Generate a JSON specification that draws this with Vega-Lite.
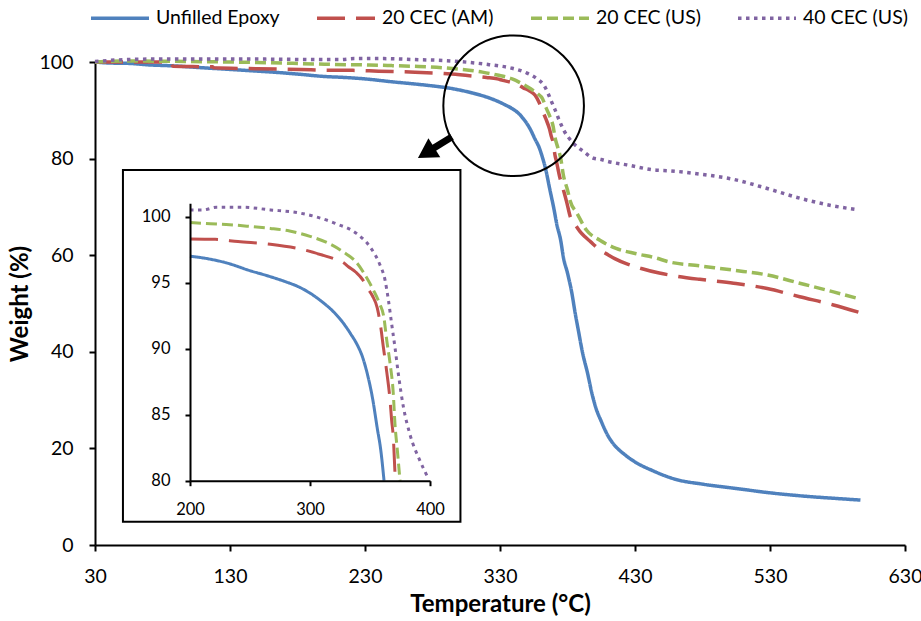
{
  "$schema": "https://vega.github.io/schema/vega-lite/v6.json",
  "width": 810,
  "height": 483,
  "autosize": {"type": "none"},
  "padding": {"left": 95, "top": 62, "right": 16, "bottom": 76},
  "config": {"view": {"stroke": null}, "font": "Lato"},
  "datasets": {
    "curves": [
      {"s": "Unfilled Epoxy", "T": 30, "W": 100.0},
      {"s": "Unfilled Epoxy", "T": 40, "W": 99.8},
      {"s": "Unfilled Epoxy", "T": 56, "W": 99.7},
      {"s": "Unfilled Epoxy", "T": 70, "W": 99.4},
      {"s": "Unfilled Epoxy", "T": 88, "W": 99.2},
      {"s": "Unfilled Epoxy", "T": 110, "W": 98.8},
      {"s": "Unfilled Epoxy", "T": 128, "W": 98.5},
      {"s": "Unfilled Epoxy", "T": 145, "W": 98.2},
      {"s": "Unfilled Epoxy", "T": 162, "W": 97.9},
      {"s": "Unfilled Epoxy", "T": 180, "W": 97.5},
      {"s": "Unfilled Epoxy", "T": 200, "W": 97.0},
      {"s": "Unfilled Epoxy", "T": 215, "W": 96.8},
      {"s": "Unfilled Epoxy", "T": 230, "W": 96.5},
      {"s": "Unfilled Epoxy", "T": 250, "W": 95.9},
      {"s": "Unfilled Epoxy", "T": 265, "W": 95.5},
      {"s": "Unfilled Epoxy", "T": 280, "W": 95.05},
      {"s": "Unfilled Epoxy", "T": 290, "W": 94.7},
      {"s": "Unfilled Epoxy", "T": 300, "W": 94.2},
      {"s": "Unfilled Epoxy", "T": 310, "W": 93.55},
      {"s": "Unfilled Epoxy", "T": 320, "W": 92.75},
      {"s": "Unfilled Epoxy", "T": 328, "W": 91.9},
      {"s": "Unfilled Epoxy", "T": 334, "W": 91.1},
      {"s": "Unfilled Epoxy", "T": 339, "W": 90.35},
      {"s": "Unfilled Epoxy", "T": 344, "W": 89.3},
      {"s": "Unfilled Epoxy", "T": 348, "W": 88.0},
      {"s": "Unfilled Epoxy", "T": 352, "W": 86.3},
      {"s": "Unfilled Epoxy", "T": 356, "W": 84.0},
      {"s": "Unfilled Epoxy", "T": 359, "W": 82.3},
      {"s": "Unfilled Epoxy", "T": 361.7, "W": 80.0},
      {"s": "Unfilled Epoxy", "T": 363.5, "W": 78.2},
      {"s": "Unfilled Epoxy", "T": 367, "W": 73.5},
      {"s": "Unfilled Epoxy", "T": 370, "W": 69.5},
      {"s": "Unfilled Epoxy", "T": 372, "W": 66.5},
      {"s": "Unfilled Epoxy", "T": 375, "W": 63.0},
      {"s": "Unfilled Epoxy", "T": 377, "W": 59.5},
      {"s": "Unfilled Epoxy", "T": 380, "W": 56.3},
      {"s": "Unfilled Epoxy", "T": 383, "W": 52.5},
      {"s": "Unfilled Epoxy", "T": 386, "W": 47.5},
      {"s": "Unfilled Epoxy", "T": 388, "W": 44.5},
      {"s": "Unfilled Epoxy", "T": 391, "W": 40.0},
      {"s": "Unfilled Epoxy", "T": 395, "W": 35.4},
      {"s": "Unfilled Epoxy", "T": 398, "W": 31.5},
      {"s": "Unfilled Epoxy", "T": 401, "W": 28.4},
      {"s": "Unfilled Epoxy", "T": 405, "W": 25.6},
      {"s": "Unfilled Epoxy", "T": 410, "W": 22.6},
      {"s": "Unfilled Epoxy", "T": 415, "W": 20.6},
      {"s": "Unfilled Epoxy", "T": 422, "W": 18.8},
      {"s": "Unfilled Epoxy", "T": 430, "W": 17.2},
      {"s": "Unfilled Epoxy", "T": 443, "W": 15.4},
      {"s": "Unfilled Epoxy", "T": 460, "W": 13.6},
      {"s": "Unfilled Epoxy", "T": 480, "W": 12.6},
      {"s": "Unfilled Epoxy", "T": 505, "W": 11.7},
      {"s": "Unfilled Epoxy", "T": 530, "W": 10.8},
      {"s": "Unfilled Epoxy", "T": 556, "W": 10.1},
      {"s": "Unfilled Epoxy", "T": 581, "W": 9.6},
      {"s": "Unfilled Epoxy", "T": 597, "W": 9.3},

      {"s": "20 CEC (AM)", "T": 30, "W": 100.0},
      {"s": "20 CEC (AM)", "T": 85, "W": 100.0},
      {"s": "20 CEC (AM)", "T": 88, "W": 99.1},
      {"s": "20 CEC (AM)", "T": 117, "W": 99.0},
      {"s": "20 CEC (AM)", "T": 118, "W": 98.8},
      {"s": "20 CEC (AM)", "T": 150, "W": 98.6},
      {"s": "20 CEC (AM)", "T": 190, "W": 98.4},
      {"s": "20 CEC (AM)", "T": 200, "W": 98.3},
      {"s": "20 CEC (AM)", "T": 221, "W": 98.27},
      {"s": "20 CEC (AM)", "T": 240, "W": 98.1},
      {"s": "20 CEC (AM)", "T": 267, "W": 97.9},
      {"s": "20 CEC (AM)", "T": 294, "W": 97.5},
      {"s": "20 CEC (AM)", "T": 311, "W": 97.06},
      {"s": "20 CEC (AM)", "T": 320, "W": 96.8},
      {"s": "20 CEC (AM)", "T": 328, "W": 96.5},
      {"s": "20 CEC (AM)", "T": 332, "W": 96.2},
      {"s": "20 CEC (AM)", "T": 338, "W": 95.8},
      {"s": "20 CEC (AM)", "T": 344, "W": 95.2},
      {"s": "20 CEC (AM)", "T": 347, "W": 94.7},
      {"s": "20 CEC (AM)", "T": 352, "W": 94.0},
      {"s": "20 CEC (AM)", "T": 356, "W": 93.1},
      {"s": "20 CEC (AM)", "T": 359, "W": 91.6},
      {"s": "20 CEC (AM)", "T": 361, "W": 90.2},
      {"s": "20 CEC (AM)", "T": 364, "W": 88.2},
      {"s": "20 CEC (AM)", "T": 366.7, "W": 86.1},
      {"s": "20 CEC (AM)", "T": 368, "W": 84.6},
      {"s": "20 CEC (AM)", "T": 369.4, "W": 83.3},
      {"s": "20 CEC (AM)", "T": 370.8, "W": 80.6},
      {"s": "20 CEC (AM)", "T": 371.5, "W": 79.8},
      {"s": "20 CEC (AM)", "T": 374.4, "W": 76.0},
      {"s": "20 CEC (AM)", "T": 377, "W": 73.5},
      {"s": "20 CEC (AM)", "T": 379.4, "W": 71.0},
      {"s": "20 CEC (AM)", "T": 382, "W": 68.0},
      {"s": "20 CEC (AM)", "T": 386, "W": 66.2},
      {"s": "20 CEC (AM)", "T": 389, "W": 65.0},
      {"s": "20 CEC (AM)", "T": 393, "W": 63.8},
      {"s": "20 CEC (AM)", "T": 397, "W": 62.8},
      {"s": "20 CEC (AM)", "T": 404, "W": 61.1},
      {"s": "20 CEC (AM)", "T": 410, "W": 60.1},
      {"s": "20 CEC (AM)", "T": 415, "W": 59.3},
      {"s": "20 CEC (AM)", "T": 424, "W": 58.2},
      {"s": "20 CEC (AM)", "T": 434, "W": 57.3},
      {"s": "20 CEC (AM)", "T": 448, "W": 56.3},
      {"s": "20 CEC (AM)", "T": 460, "W": 55.7},
      {"s": "20 CEC (AM)", "T": 478, "W": 55.0},
      {"s": "20 CEC (AM)", "T": 503, "W": 54.2},
      {"s": "20 CEC (AM)", "T": 528, "W": 53.1},
      {"s": "20 CEC (AM)", "T": 552, "W": 51.4},
      {"s": "20 CEC (AM)", "T": 577, "W": 49.7},
      {"s": "20 CEC (AM)", "T": 597, "W": 48.1},

      {"s": "20 CEC (US)", "T": 30, "W": 100.0},
      {"s": "20 CEC (US)", "T": 50, "W": 100.2},
      {"s": "20 CEC (US)", "T": 100, "W": 100.1},
      {"s": "20 CEC (US)", "T": 150, "W": 99.9},
      {"s": "20 CEC (US)", "T": 200, "W": 99.55},
      {"s": "20 CEC (US)", "T": 217, "W": 99.45},
      {"s": "20 CEC (US)", "T": 233, "W": 99.38},
      {"s": "20 CEC (US)", "T": 250, "W": 99.25},
      {"s": "20 CEC (US)", "T": 267, "W": 99.1},
      {"s": "20 CEC (US)", "T": 283, "W": 98.9},
      {"s": "20 CEC (US)", "T": 300, "W": 98.5},
      {"s": "20 CEC (US)", "T": 317, "W": 97.9},
      {"s": "20 CEC (US)", "T": 328, "W": 97.3},
      {"s": "20 CEC (US)", "T": 339, "W": 96.5},
      {"s": "20 CEC (US)", "T": 347, "W": 95.4},
      {"s": "20 CEC (US)", "T": 353, "W": 94.4},
      {"s": "20 CEC (US)", "T": 358, "W": 93.4},
      {"s": "20 CEC (US)", "T": 361.5, "W": 92.4},
      {"s": "20 CEC (US)", "T": 364, "W": 90.6},
      {"s": "20 CEC (US)", "T": 366.7, "W": 88.9},
      {"s": "20 CEC (US)", "T": 369.4, "W": 86.6},
      {"s": "20 CEC (US)", "T": 370.8, "W": 84.3},
      {"s": "20 CEC (US)", "T": 372.8, "W": 82.3},
      {"s": "20 CEC (US)", "T": 375, "W": 80.0},
      {"s": "20 CEC (US)", "T": 377, "W": 76.5},
      {"s": "20 CEC (US)", "T": 380, "W": 73.5},
      {"s": "20 CEC (US)", "T": 382, "W": 71.2},
      {"s": "20 CEC (US)", "T": 387, "W": 68.7},
      {"s": "20 CEC (US)", "T": 394, "W": 65.2},
      {"s": "20 CEC (US)", "T": 404, "W": 63.1},
      {"s": "20 CEC (US)", "T": 416, "W": 61.4},
      {"s": "20 CEC (US)", "T": 431, "W": 60.3},
      {"s": "20 CEC (US)", "T": 446, "W": 59.4},
      {"s": "20 CEC (US)", "T": 454, "W": 58.7},
      {"s": "20 CEC (US)", "T": 478, "W": 57.8},
      {"s": "20 CEC (US)", "T": 503, "W": 56.9},
      {"s": "20 CEC (US)", "T": 528, "W": 55.9},
      {"s": "20 CEC (US)", "T": 552, "W": 54.2},
      {"s": "20 CEC (US)", "T": 577, "W": 52.4},
      {"s": "20 CEC (US)", "T": 597, "W": 50.9},

      {"s": "40 CEC (US)", "T": 30, "W": 100.1},
      {"s": "40 CEC (US)", "T": 45, "W": 100.4},
      {"s": "40 CEC (US)", "T": 70, "W": 100.6},
      {"s": "40 CEC (US)", "T": 150, "W": 100.6},
      {"s": "40 CEC (US)", "T": 200, "W": 100.5},
      {"s": "40 CEC (US)", "T": 211, "W": 100.5},
      {"s": "40 CEC (US)", "T": 222, "W": 100.7},
      {"s": "40 CEC (US)", "T": 244, "W": 100.7},
      {"s": "40 CEC (US)", "T": 267, "W": 100.5},
      {"s": "40 CEC (US)", "T": 289, "W": 100.3},
      {"s": "40 CEC (US)", "T": 306, "W": 99.95},
      {"s": "40 CEC (US)", "T": 322, "W": 99.45},
      {"s": "40 CEC (US)", "T": 339, "W": 98.7},
      {"s": "40 CEC (US)", "T": 350, "W": 97.7},
      {"s": "40 CEC (US)", "T": 358, "W": 96.4},
      {"s": "40 CEC (US)", "T": 362.5, "W": 95.2},
      {"s": "40 CEC (US)", "T": 365.3, "W": 93.7},
      {"s": "40 CEC (US)", "T": 368, "W": 91.9},
      {"s": "40 CEC (US)", "T": 370.8, "W": 90.1},
      {"s": "40 CEC (US)", "T": 373.6, "W": 88.1},
      {"s": "40 CEC (US)", "T": 377.8, "W": 85.6},
      {"s": "40 CEC (US)", "T": 383.3, "W": 83.5},
      {"s": "40 CEC (US)", "T": 391.7, "W": 81.5},
      {"s": "40 CEC (US)", "T": 399, "W": 80.1},
      {"s": "40 CEC (US)", "T": 405, "W": 79.8},
      {"s": "40 CEC (US)", "T": 410, "W": 79.4},
      {"s": "40 CEC (US)", "T": 424, "W": 78.7},
      {"s": "40 CEC (US)", "T": 446, "W": 77.6},
      {"s": "40 CEC (US)", "T": 454, "W": 77.5},
      {"s": "40 CEC (US)", "T": 478, "W": 76.8},
      {"s": "40 CEC (US)", "T": 503, "W": 75.7},
      {"s": "40 CEC (US)", "T": 528, "W": 73.8},
      {"s": "40 CEC (US)", "T": 552, "W": 71.8},
      {"s": "40 CEC (US)", "T": 577, "W": 70.2},
      {"s": "40 CEC (US)", "T": 595, "W": 69.4}
    ],
    "frame": [{"T": 50.7, "T2": 300.7, "W": 77.64, "W2": 4.82}],
    "ring": [{"T": 340.1, "W": 90.95}],
    "shaft": [{"T": 294.4, "W": 84.5, "T2": 275.3, "W2": 81.2}],
    "head": [{"T": 275.3, "W": 81.2}]
  },
  "layer": [
    {
      "layer": [
        {
          "data": {"name": "curves"},
          "mark": {"type": "line", "strokeWidth": 3.5, "interpolate": "monotone"},
          "encoding": {
            "x": {
              "field": "T", "type": "quantitative",
              "scale": {"domain": [30, 630], "nice": false, "zero": false},
              "axis": {
                "title": "Temperature (°C)", "values": [30, 130, 230, 330, 430, 530, 630],
                "grid": false, "domainColor": "black", "domainWidth": 2, "tickColor": "black",
                "tickWidth": 2, "tickSize": 6, "labelFontSize": 19.5, "labelColor": "black",
                "labelFlush": false, "labelPadding": 16, "titleFontSize": 24, "titleFontWeight": "bold",
                "titleColor": "black", "titlePadding": 7
              }
            },
            "y": {
              "field": "W", "type": "quantitative",
              "scale": {"domain": [0, 100], "nice": false, "zero": false},
              "axis": {
                "title": "Weight (%)", "values": [0, 20, 40, 60, 80, 100],
                "grid": false, "domainColor": "black", "domainWidth": 2, "tickColor": "black",
                "tickWidth": 2, "tickSize": 6, "labelFontSize": 19.5, "labelColor": "black",
                "labelFlush": false, "labelPadding": 16, "titleFontSize": 24, "titleFontWeight": "bold",
                "titleColor": "black", "titlePadding": 7
              }
            },
            "color": {
              "field": "s", "type": "nominal",
              "scale": {
                "domain": ["Unfilled Epoxy", "20 CEC (AM)", "20 CEC (US)", "40 CEC (US)"],
                "range": ["#4F81BD", "#C0504D", "#9BBB59", "#8064A2"]
              },
              "legend": {
                "title": null, "orient": "none", "legendX": -6, "legendY": -75, "padding": 0,
                "direction": "horizontal", "columns": 4, "columnPadding": 30,
                "symbolType": "stroke", "symbolSize": 3364, "symbolStrokeWidth": 3.5,
                "labelFontSize": 19.5, "labelColor": "black", "labelOffset": 5, "labelLimit": 300
              }
            },
            "strokeDash": {
              "field": "s", "type": "nominal",
              "scale": {
                "domain": ["Unfilled Epoxy", "20 CEC (AM)", "20 CEC (US)", "40 CEC (US)"],
                "range": [[1, 0], [28, 11], [11, 5], [3.5, 4.5]]
              },
              "legend": {
                "title": null, "orient": "none", "legendX": -6, "legendY": -75, "padding": 0,
                "direction": "horizontal", "columns": 4, "columnPadding": 30,
                "symbolType": "stroke", "symbolSize": 3364, "symbolStrokeWidth": 3.5,
                "labelFontSize": 19.5, "labelColor": "black", "labelOffset": 5, "labelLimit": 300
              }
            }
          }
        },
        {
          "data": {"name": "frame"},
          "mark": {"type": "rect", "fill": "white", "stroke": "black", "strokeWidth": 2},
          "encoding": {
            "x": {"field": "T", "type": "quantitative", "title": "Temperature (°C)"},
            "x2": {"field": "T2"},
            "y": {"field": "W", "type": "quantitative", "title": "Weight (%)"},
            "y2": {"field": "W2"}
          }
        },
        {
          "data": {"name": "ring"},
          "mark": {"type": "point", "shape": "circle", "size": 19768, "filled": false, "color": "black", "strokeWidth": 2, "opacity": 1},
          "encoding": {
            "x": {"field": "T", "type": "quantitative", "title": "Temperature (°C)"},
            "y": {"field": "W", "type": "quantitative", "title": "Weight (%)"}
          }
        },
        {
          "data": {"name": "shaft"},
          "mark": {"type": "rule", "color": "black", "strokeWidth": 7},
          "encoding": {
            "x": {"field": "T", "type": "quantitative", "title": "Temperature (°C)"},
            "x2": {"field": "T2"},
            "y": {"field": "W", "type": "quantitative", "title": "Weight (%)"},
            "y2": {"field": "W2"}
          }
        },
        {
          "data": {"name": "head"},
          "mark": {"type": "point", "shape": "triangle-up", "size": 500, "filled": true, "color": "black", "angle": 238, "opacity": 1},
          "encoding": {
            "x": {"field": "T", "type": "quantitative", "title": "Temperature (°C)"},
            "y": {"field": "W", "type": "quantitative", "title": "Weight (%)"}
          }
        }
      ]
    },
    {
      "data": {"name": "curves"},
      "transform": [{"filter": "datum.T >= 200 && datum.T <= 400 && datum.W >= 80"}],
      "mark": {"type": "line", "strokeWidth": 3, "interpolate": "monotone"},
      "encoding": {
        "x": {
          "field": "T", "type": "quantitative",
          "scale": {"domain": [200, 400], "range": [95, 335], "nice": false, "zero": false},
          "axis": {
            "orient": "bottom", "offset": -64.3, "title": null, "values": [200, 300, 400],
            "grid": false, "domainColor": "black", "domainWidth": 2, "tickColor": "black",
            "tickWidth": 2, "tickSize": 5, "labelFontSize": 16.5, "labelColor": "black",
            "labelFlush": false, "labelPadding": 16, "zindex": 2
          }
        },
        "y": {
          "field": "W", "type": "quantitative",
          "scale": {"domain": [80, 101], "range": [418.7, 141.3], "nice": false, "zero": false},
          "axis": {
            "orient": "left", "offset": -95, "title": null, "values": [80, 85, 90, 95, 100],
            "grid": false, "domainColor": "black", "domainWidth": 2, "tickColor": "black",
            "tickWidth": 2, "tickSize": 5, "labelFontSize": 16.5, "labelColor": "black",
            "labelFlush": false, "labelPadding": 15, "zindex": 2
          }
        },
        "color": {"field": "s", "type": "nominal"},
        "strokeDash": {"field": "s", "type": "nominal"}
      }
    }
  ],
  "resolve": {"scale": {"x": "independent", "y": "independent"}}
}
